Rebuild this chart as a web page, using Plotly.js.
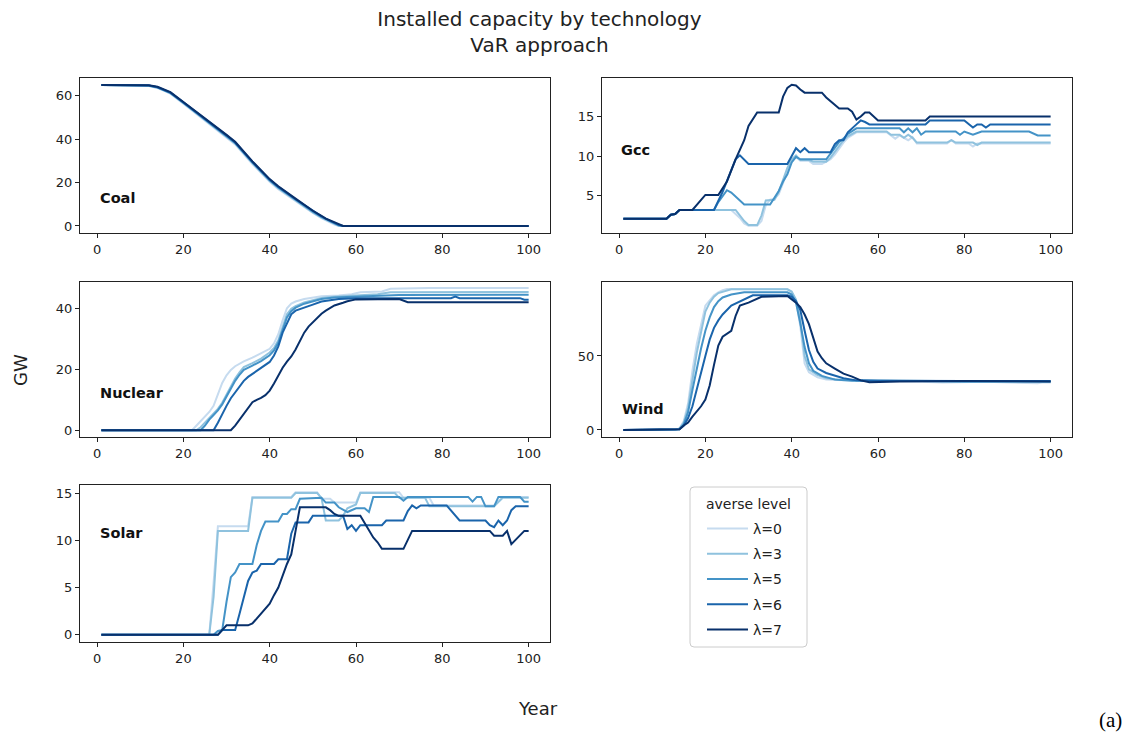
<!DOCTYPE html>
<html>
<head>
<meta charset="utf-8">
<script src="https://cdn.plot.ly/plotly-3.0.1.min.js"></script>
<style>
  html, body { margin: 0; padding: 0; background: #ffffff; }
  #chart { width: 1131px; height: 734px; }
</style>
</head>
<body>
<div id="chart"></div>
<script>
// Installed capacity (GW) per technology and risk-aversion level, as [year, GW] vertices.
const lambdaLabels = ['λ=0', 'λ=3', 'λ=5', 'λ=6', 'λ=7'];
const xTicks = [0, 20, 40, 60, 80, 100];

// Coal
const coalL0 = [[1,65],[11,65],[12,64.6],[14,63.6],[16,62],[17,61],[20,56.4],[25,48.6],[30,40.8],[32,37.6],[36,28.6],[40,20.4],[42,17],[46,11.4],[50,6],[52,3.6],[54,1.6],[55,0.6],[56,0],[100,0]];
const coalL3 = [[1,65],[11,65],[12,64.7],[14,63.8],[16,62.2],[17,61.2],[20,56.7],[25,49],[30,41.2],[32,38],[36,29],[40,20.8],[42,17.4],[46,11.8],[50,6.3],[52,3.9],[54,1.9],[55,0.9],[56,0.1],[57,0],[100,0]];
const coalL5 = [[1,65],[11,65],[12,64.8],[14,64],[16,62.4],[17,61.4],[20,56.9],[25,49.3],[30,41.5],[32,38.3],[36,29.3],[40,21.1],[42,17.8],[46,12.1],[50,6.6],[52,4.2],[54,2.1],[55,1.1],[56,0.3],[57,0],[100,0]];
const coalL6 = [[1,65],[11,65],[12,64.8],[14,64],[16,62.5],[17,61.5],[20,57],[25,49.5],[30,41.8],[32,38.5],[36,29.5],[40,21.3],[42,18],[46,12.3],[50,6.8],[52,4.4],[54,2.3],[55,1.4],[56,0.5],[57,0],[100,0]];
const coalL7 = [[1,65],[11,65],[12,64.9],[14,64.2],[16,62.7],[17,61.7],[20,57.2],[25,49.8],[30,42],[32,38.8],[36,29.8],[40,21.6],[42,18.3],[46,12.6],[50,7],[52,4.7],[53,3.4],[54,2.6],[55,1.8],[56,0.8],[57,0],[100,0]];

// Gcc
const gccL0 = [[1,2.1],[11,2.1],[12,2.6],[13,2.7],[14,3.2],[26,3.2],[28,2.2],[29,1.5],[30,1.2],[32,1.2],[33,1.8],[34,3.8],[35,4.5],[36,4.6],[37,5.2],[38,6.5],[39,8],[40,9.4],[41,9.9],[42,9.4],[44,9.4],[45,9],[47,9],[48,9.3],[49,9.6],[50,10.2],[51,11],[52,11.7],[53,12.3],[55,13],[62,13],[64,12.2],[65,12.6],[67,12],[68,12.4],[69,11.6],[76,11.6],[77,12],[78,11.6],[81,11.6],[82,11.2],[83,11.6],[100,11.6]];
const gccL3 = [[1,2.1],[11,2.1],[12,2.6],[13,2.7],[14,3.2],[27,3.2],[29,1.8],[30,1.3],[32,1.3],[33,2.5],[34,4.4],[36,4.5],[37,5.5],[38,7],[39,8.5],[40,9.6],[41,10.1],[42,9.5],[44,9.5],[45,9.3],[48,9.3],[49,9.8],[50,10.5],[51,11.3],[52,12],[53,12.5],[55,13.1],[62,13.1],[63,12.7],[65,12.7],[66,12.3],[67,12.7],[68,12.3],[69,11.7],[76,11.7],[77,12],[78,11.7],[82,11.7],[83,11.4],[84,11.7],[100,11.7]];
const gccL5 = [[1,2.1],[11,2.1],[12,2.6],[13,2.7],[14,3.2],[22,3.2],[23,4.2],[25,5.7],[26,5.4],[29,3.9],[35,3.9],[36,4.8],[37,5.6],[38,6.8],[39,7.7],[40,9.2],[41,9.9],[42,9.6],[48,9.6],[49,10.3],[50,11],[51,11.8],[52,12.2],[53,12.8],[55,13.5],[65,13.5],[66,13],[67,13.5],[68,13],[69,13.5],[70,12.7],[71,13.1],[78,13.1],[79,12.7],[80,13.1],[82,12.7],[84,13.1],[95,13.1],[97,12.6],[100,12.6]];
const gccL6 = [[1,2.1],[11,2.1],[12,2.6],[13,2.7],[14,3.2],[22,3.2],[24,5.5],[25,6.8],[27,9.6],[28,10.1],[30,9],[39,9],[40,10],[41,11],[42,10.5],[43,11],[44,10.5],[49,10.5],[50,11.5],[51,12],[52,12],[53,13],[55,14],[56,14.5],[57,14.3],[58,14],[71,14],[72,14.5],[80,14.5],[81,14],[82,13.6],[83,14],[84,14],[85,13.6],[86,14],[100,14]];
const gccL7 = [[1,2.1],[11,2.1],[12,2.6],[13,2.7],[14,3.2],[17,3.2],[20,5.1],[23,5.1],[25,6.8],[27,9.6],[29,12],[30,13.8],[32,15.5],[37,15.5],[38,17.5],[39,18.6],[40,19],[41,18.9],[42,18.4],[43,18],[47,18],[48,17.4],[51,16],[53,16],[54,15.6],[55,14.6],[56,15],[57,15.5],[58,15.5],[59,15],[60,14.5],[71,14.5],[72,15],[100,15]];

// Nuclear
const nucL0 = [[1,0],[22,0],[23,1.5],[24,3],[25,4.4],[26,6],[27,8],[28,12],[29,15.5],[30,18],[31,19.8],[32,21],[34,22.6],[36,23.8],[38,25.3],[40,26.7],[41,28.5],[42,31.5],[43,36],[44,40],[45,41.5],[46,42.2],[48,43],[50,43.4],[52,43.9],[56,44.2],[59,44.6],[61,45.2],[66,45.5],[68,46.4],[76,46.5],[77,46.6],[100,46.6]];
const nucL3 = [[1,0],[23,0],[24,1],[25,2.5],[26,4],[27,5.5],[28,7],[29,9],[30,11.5],[31,14.5],[32,17],[33,19],[34,20.7],[36,22],[38,23.5],[40,25.5],[41,27],[42,29.5],[43,34],[44,38],[45,39.8],[46,40.7],[48,41.9],[50,42.6],[52,43.4],[55,43.8],[58,44.1],[62,44.4],[65,44.6],[68,45.2],[100,45.3]];
const nucL5 = [[1,0],[24,0],[25,1.5],[26,3.5],[27,5],[28,6.5],[29,8.5],[30,11],[31,13.8],[32,16.2],[33,18.2],[34,19.8],[36,21.2],[38,22.7],[40,24.6],[41,26.2],[42,28.7],[43,33],[44,37],[45,39],[46,40.2],[48,41.5],[50,42.3],[52,43],[55,43.5],[60,43.8],[70,44.3],[100,44.4]];
const nucL6 = [[1,0],[27,0],[28,2.5],[29,5.5],[30,8],[31,10.5],[32,12.5],[33,14.5],[34,16.2],[35,17.5],[36,18.5],[37,19.5],[38,20.3],[39,21.2],[40,22.4],[41,24.5],[42,27.5],[43,32],[44,35],[45,38],[46,39.2],[48,40.3],[50,41.2],[52,42.2],[54,42.7],[56,43],[60,43.3],[82,43.3],[83,43.8],[84,43.3],[98,43.3],[99,42.8],[100,42.8]];
const nucL7 = [[1,0],[31,0],[32,1.5],[33,3.5],[34,5.5],[35,7.5],[36,9.2],[37,10],[38,10.6],[39,11.5],[40,13],[41,15.3],[42,18],[43,20.5],[44,22.5],[45,24.2],[46,26.5],[47,29.5],[48,32],[49,34],[50,35.5],[51,36.8],[52,38.2],[53,39.2],[55,40.9],[57,41.8],[58,42.3],[60,42.9],[70,43],[72,42],[100,42]];

// Wind
const windL0 = [[1,0],[13,0],[14,1],[15,6],[16,18],[17,40],[18,58],[19,70],[20,84],[21,87.5],[22,91],[23,93],[24,94.5],[25,95.2],[39,95.2],[40,93],[41,87],[42,70],[43,45],[44,39],[46,35.5],[48,34],[52,33.5],[60,33.5],[65,33],[70,32.5],[75,32],[85,32.5],[95,32],[97,31.5],[98,32],[100,32]];
const windL3 = [[1,0],[13,0],[14,1],[15,5],[16,15],[17,34],[18,52],[19,66],[20,80],[21,86],[22,90],[23,92.5],[25,94.5],[26,95],[39,95],[40,93.5],[41,88],[42,74],[43,50],[44,41],[46,37],[48,35],[52,33.8],[60,33.5],[70,33],[80,32.8],[90,32.6],[100,32.5]];
const windL5 = [[1,0],[13,0],[14,0.5],[15,4],[16,12],[17,27],[18,42],[19,55],[20,67],[21,76],[22,83],[23,87],[24,89.5],[26,91.5],[29,93],[39,93],[40,91.5],[41,86],[42,72],[43,56],[44,45],[45,40],[47,36.5],[50,34],[54,33.3],[60,33],[70,33],[80,32.6],[90,32.8],[100,32.8]];
const windL6 = [[1,0],[13,0],[14,0.5],[15,3],[16,8],[17,16],[18,28],[19,39],[20,50],[21,61],[22,69],[23,74],[24,78],[26,84],[28,87],[31,91],[39,91],[40,90],[41,87],[42,81],[43,67],[44,54],[45,46],[46,41.5],[48,38.5],[50,36.5],[52,35],[55,33.5],[60,33.2],[80,33],[100,33]];
const windL7 = [[1,0],[13,0],[14,0.5],[15,3],[16,5],[17,9],[18,12.5],[19,16],[20,20.5],[21,30],[22,44],[23,57],[24,63],[26,67],[27,77],[28,84],[30,86],[33,90],[39,90.5],[40,88.5],[41,86],[42,83],[43,78],[44,71.5],[45,62],[46,53],[47,48.5],[48,45],[50,41.5],[52,38],[54,36],[56,33.5],[58,32.2],[65,32.8],[80,33],[90,33],[100,32.8]];

// Solar
const solarL0 = [[1,0],[26,0],[27,5.5],[28,11.5],[35,11.5],[36,14.6],[45,14.6],[46,15.1],[51,15.1],[52,14.4],[54,14.4],[55,14],[60,14],[61,15.1],[70,15.1],[71,14.5],[77,14.5],[78,13.7],[92,13.7],[94,14.6],[100,14.6]];
const solarL3 = [[1,0],[26,0],[27,4],[28,11],[35,11],[36,14.5],[45,14.5],[46,15],[51,15],[52,14.5],[53,12.1],[56,12.1],[57,12.6],[58,13.4],[60,13.8],[61,15],[69,15],[70,14.5],[76,14.5],[77,13.6],[92,13.6],[94,14.5],[100,14.5]];
const solarL5 = [[1,0],[27,0],[28,0.4],[29,0.5],[30,3.5],[31,6.1],[32,6.6],[33,7.5],[36,7.5],[37,9.5],[38,11],[39,12],[42,12],[43,12.8],[44,12.8],[45,13.3],[46,13.3],[47,14.4],[52,14.5],[53,14],[55,14],[56,13.5],[58,13],[60,13.4],[62,13.4],[63,13],[64,14.6],[70,14.6],[71,14.2],[72,14.6],[86,14.6],[87,14.1],[88,14.6],[89,14.6],[90,13.6],[92,13.6],[93,14.6],[98,14.6],[99,14.1],[100,14.1]];
const solarL6 = [[1,0],[28,0],[29,0.5],[32,0.5],[33,2.2],[34,4],[35,5.7],[36,6.6],[37,6.8],[38,7.5],[41,7.5],[42,8],[44,8],[45,10.7],[46,11.9],[49,11.9],[50,12.6],[57,12.6],[58,11.2],[59,11.6],[60,11],[61,11.6],[66,11.6],[67,12.1],[71,12.1],[72,13.1],[73,13.7],[74,13.4],[75,13.7],[81,13.7],[83,12.6],[84,12.1],[90,12.1],[91,11.6],[92,11.4],[93,12.1],[94,11.6],[95,12.1],[96,13.2],[97,13.6],[100,13.6]];
const solarL7 = [[1,0],[28,0],[30,1],[35,1],[36,1.2],[38,2.2],[40,3.3],[41,4.2],[42,5],[44,7.5],[45,8.5],[46,11],[47,13.5],[53,13.5],[54,13.2],[55,12.8],[56,12.6],[61,12.6],[62,11.8],[63,11],[64,10.3],[65,9.8],[66,9.1],[71,9.1],[72,10],[73,11],[91,11],[92,10.5],[94,10.5],[95,11],[96,9.6],[98,10.5],[99,11],[100,11]];

// Line colours, light to dark along the Blues scale
const lineColors = ['#c6dbef', '#8fc2de', '#4493c7', '#1a64ab', '#08306b'];

const panels = [
  { name: 'Coal',    series: [coalL0, coalL3, coalL5, coalL6, coalL7],       yTicks: [0, 20, 40, 60],   yRange: [-3.25, 68.25], label: [0.038, 0.226] },
  { name: 'Gcc',     series: [gccL0, gccL3, gccL5, gccL6, gccL7],            yTicks: [5, 10, 15],       yRange: [0.3, 19.85],   label: [0.037, 0.535] },
  { name: 'Nuclear', series: [nucL0, nucL3, nucL5, nucL6, nucL7],            yTicks: [0, 20, 40],       yRange: [-2.2, 48.6],   label: [0.038, 0.282] },
  { name: 'Wind',    series: [windL0, windL3, windL5, windL6, windL7],       yTicks: [0, 50],           yRange: [-4.76, 99.96], label: [0.038, 0.179] },
  { name: 'Solar',   series: [solarL0, solarL3, solarL5, solarL6, solarL7],  yTicks: [0, 5, 10, 15],    yRange: [-0.76, 15.86], label: [0.038, 0.692] }
];

// Panel boxes in pixels: [left, right, top, bottom]
const W = 1131, H = 734;
const boxes = [
  [80, 550, 78, 233],
  [602, 1072, 78, 233],
  [80, 550, 282, 437],
  [602, 1072, 282, 437],
  [80, 550, 485, 642]
];

const FONT = 'DejaVu Sans, Verdana, sans-serif';
const INK = '#222222';

// Legend frame (rounded box) in pixels
const legendBox = { left: 690, right: 807, top: 487, bottom: 647, r: 4 };

function roundedRectPath(b) {
  const x0 = b.left / W, x1 = b.right / W;
  const y0 = 1 - b.bottom / H, y1 = 1 - b.top / H;
  const rx = b.r / W, ry = b.r / H;
  return 'M' + (x0 + rx) + ',' + y1 +
    ' L' + (x1 - rx) + ',' + y1 + ' Q' + x1 + ',' + y1 + ' ' + x1 + ',' + (y1 - ry) +
    ' L' + x1 + ',' + (y0 + ry) + ' Q' + x1 + ',' + y0 + ' ' + (x1 - rx) + ',' + y0 +
    ' L' + (x0 + rx) + ',' + y0 + ' Q' + x0 + ',' + y0 + ' ' + x0 + ',' + (y0 + ry) +
    ' L' + x0 + ',' + (y1 - ry) + ' Q' + x0 + ',' + y1 + ' ' + (x0 + rx) + ',' + y1 + ' Z';
}

const traces = [];
const layout = {
  width: W, height: H,
  margin: { l: 0, r: 0, t: 0, b: 0, pad: 0 },
  paper_bgcolor: '#ffffff',
  plot_bgcolor: '#ffffff',
  showlegend: true,
  font: { family: FONT, color: INK },
  title: {
    text: 'Installed capacity by technology<br>VaR approach',
    x: 0.477, xanchor: 'center', xref: 'paper',
    y: 1 - 26 / H, yanchor: 'middle', yref: 'container',
    font: { family: FONT, size: 20, color: INK }
  },
  legend: {
    x: 702 / W, y: 1 - 513 / H, xanchor: 'left', yanchor: 'top',
    bgcolor: 'rgba(0,0,0,0)', borderwidth: 0,
    font: { family: FONT, size: 14, color: INK },
    traceorder: 'grouped', tracegroupgap: 4,
    itemwidth: 41
  },
  shapes: [{
    type: 'path', xref: 'paper', yref: 'paper', path: roundedRectPath(legendBox),
    line: { color: '#cccccc', width: 1 }, fillcolor: '#ffffff', layer: 'below'
  }],
  annotations: [{
    xref: 'paper', yref: 'paper', x: 748 / W, y: 1 - 504 / H,
    text: 'averse level', showarrow: false, xanchor: 'center', yanchor: 'middle',
    font: { family: FONT, size: 14, color: INK }
  }],
  hovermode: false
};

panels.forEach((p, i) => {
  const n = i === 0 ? '' : String(i + 1);
  const b = boxes[i];
  const axisCommon = {
    showline: true, mirror: true, linecolor: INK, linewidth: 1,
    ticks: 'outside', ticklen: 4, tickwidth: 1, tickcolor: INK,
    showgrid: false, zeroline: false, fixedrange: true,
    tickfont: { family: FONT, size: 13, color: INK }
  };
  layout['xaxis' + n] = Object.assign({}, axisCommon, {
    domain: [b[0] / W, b[1] / W], anchor: 'y' + n,
    range: [-3.95, 104.95], tickmode: 'array', tickvals: xTicks
  });
  layout['yaxis' + n] = Object.assign({}, axisCommon, {
    domain: [1 - b[3] / H, 1 - b[2] / H], anchor: 'x' + n,
    range: p.yRange, tickmode: 'array', tickvals: p.yTicks
  });
  p.series.forEach((s, k) => {
    traces.push({
      type: 'scatter', mode: 'lines',
      x: s.map(v => v[0]), y: s.map(v => v[1]),
      xaxis: 'x' + n, yaxis: 'y' + n,
      name: lambdaLabels[k], legendgroup: lambdaLabels[k],
      showlegend: i === 0,
      line: { color: lineColors[k], width: 2 }
    });
  });
  layout.annotations.push({
    xref: 'x' + n + ' domain', yref: 'y' + n + ' domain',
    x: p.label[0], y: p.label[1], xanchor: 'left', yanchor: 'middle',
    text: '<b>' + p.name + '</b>', showarrow: false,
    font: { family: FONT, size: 14.5, color: '#111111' }
  });
});

// Shared axis captions and panel tag
layout.annotations.push(
  { xref: 'paper', yref: 'paper', x: 20 / W, y: 1 - 370 / H, text: 'GW', textangle: -90,
    showarrow: false, xanchor: 'center', yanchor: 'middle', font: { family: FONT, size: 18, color: INK } },
  { xref: 'paper', yref: 'paper', x: 538 / W, y: 1 - 708 / H, text: 'Year',
    showarrow: false, xanchor: 'center', yanchor: 'middle', font: { family: FONT, size: 18, color: INK } },
  { xref: 'paper', yref: 'paper', x: 1110 / W, y: 1 - 720 / H, text: '(a)',
    showarrow: false, xanchor: 'center', yanchor: 'middle', font: { family: 'Liberation Serif, Times New Roman, serif', size: 21, color: '#000000' } }
);

Plotly.newPlot('chart', traces, layout, { displayModeBar: false, staticPlot: true });
</script>
</body>
</html>
